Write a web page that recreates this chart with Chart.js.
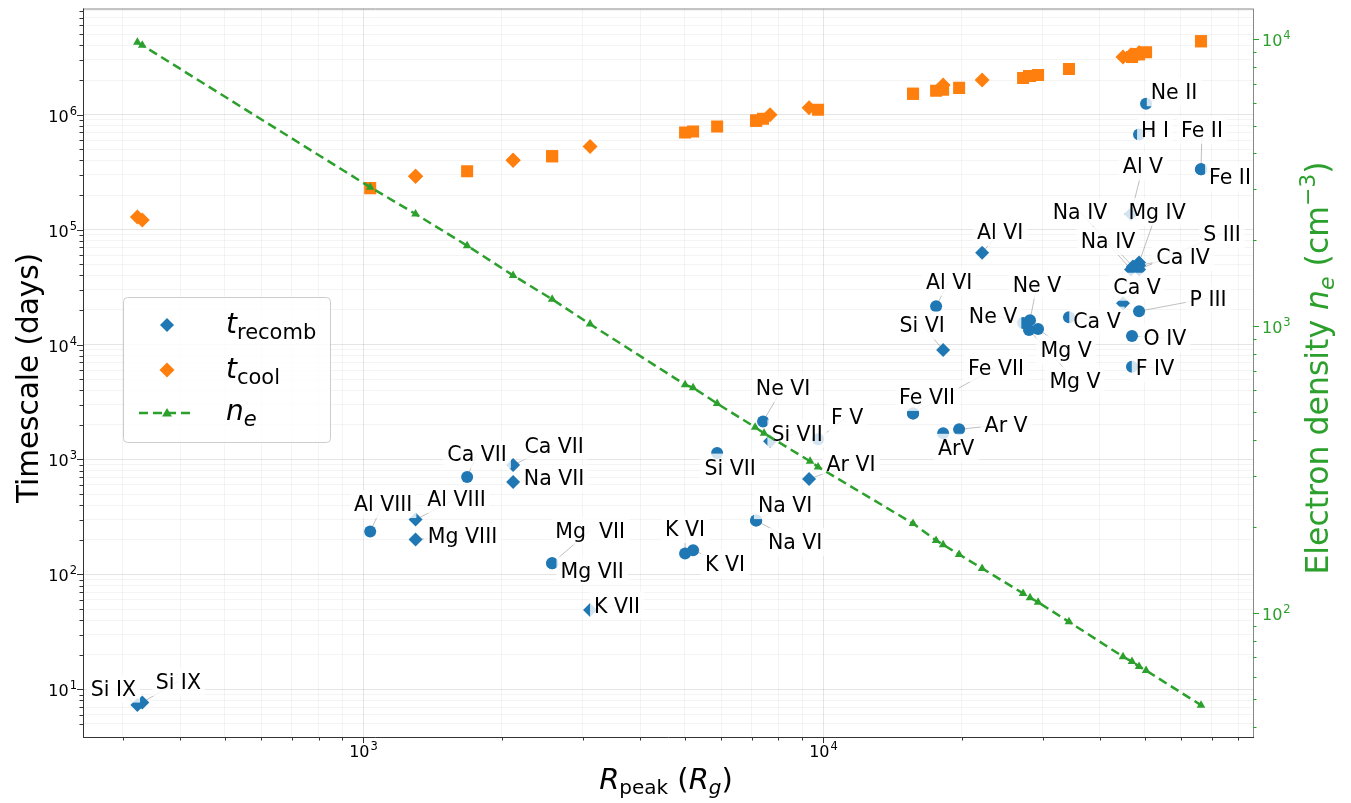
<!DOCTYPE html>
<html>
<head>
<meta charset="utf-8">
<script src="https://cdn.jsdelivr.net/npm/chart.js@4.4.1/dist/chart.umd.min.js"></script>
<style>
  html, body { margin: 0; padding: 0; background: #fff; }
</style>
</head>
<body>
<canvas id="chart" width="1351" height="803"></canvas>
<script>
// ================= DATA =================
// group A : t_recomb and t_cool both drawn as diamonds
const ionsA = ["Si IX", "Si IX", "Al VIII", "Mg VIII", "Ca VII", "Na VII", "K VII", "Si VII", "Ar VI",
  "Si VI", "Al VI", "Ca V", "Al V", "Na IV", "Na IV", "Mg IV", "Ca IV", "S III"];
const rPeakA = [323, 331, 1300, 1300, 2119, 2119, 3115, 7669, 9324,
  18240, 22170, 44890, 46720, 46720, 47180, 48640, 48640, 48640];
const tRecombA = [7.3, 7.7, 300, 201, 894, 638, 49, 1442, 677,
  8980, 63050, 22870, 136900, 44950, 47730, 51680, 48680, 44950];
const tCoolA = [128950, 121500, 291400, 291400, 400700, 400700, 529300, 1000000, 1149000,
  1816000, 2006000, 3170000, 3298000, 3298000, 3298000, 3432000, 3432000, 3432000];

// group B : t_recomb drawn as circles, t_cool as squares
const ionsB = ["Al VIII", "Ca VII", "Mg  VII", "Mg VII", "K VI", "K VI", "Si VII", "Na VI", "Na VI",
  "Ne VI", "F V", "Fe VII", "Fe VII", "Al VI", "ArV", "Ar V", "Ne V", "Ne V", "Mg V", "Mg V",
  "Ca V", "O IV", "F IV", "H I", "P III", "Ne II", "Fe II", "Fe II"];
const rPeakB = [1036, 1683, 2576, 2576, 5012, 5217, 5884, 7152, 7152,
  7405, 9752, 15690, 15690, 17610, 18240, 19760, 27220, 28180, 29340, 28040,
  34250, 46950, 46950, 48640, 48640, 50380, 66330, 66330];
const tRecombB = [236, 705, 125, 125, 152, 162, 1136, 294, 294,
  2145, 1500, 2516, 2516, 21540, 1690, 1830, 15370, 16310, 13640, 13370,
  17310, 11870, 6406, 672100, 19500, 1245000, 335000, 335000];
const tCoolB = [229600, 321900, 433800, 433800, 699000, 713000, 787600, 887500, 887500,
  923600, 1105000, 1518000, 1518000, 1612000, 1644000, 1711000, 2087000, 2172000, 2215000, 2172000,
  2497000, 3170000, 3170000, 3364000, 3364000, 3500000, 4355000, 4355000];

// electron density (right axis)
const neR = [323, 331, 1036, 1300, 1683, 2119, 2576, 3115, 5012, 5217, 5884, 7116, 7442, 9369, 9752,
  15690, 17610, 18240, 19760, 22170, 27220, 28180, 29340, 34250, 44890, 46950, 48640, 50380, 66330];
const neVal = [9760, 9530, 3050, 2460, 1907, 1502, 1240, 1016, 625, 610, 537, 444, 423, 338, 323,
  205, 179, 173, 160, 143, 117, 113, 109, 93.1, 70.4, 67.7, 65.0, 63.0, 47.7];

// ================= LAYOUT (label offsets in px from the point) =================
const labelOffA = [[-24, -17], [36, -21], [41, -21], [47, -4], [41, -20], [41, -4], [27, -5], [27, -8], [42, -15],
  [-21, -25], [18, -21], [14, -17], [12, -48], [-51, -58], [-25, -26], [18, -51], [44, -9], [83, -36]];
const labelOffB = [[13, -28], [10, -23], [38, -33], [40, 7], [0, -25], [32, 13], [13, 14], [29, -16], [39, 21],
  [20, -34], [29, -23], [14, -17], [83, -46], [13, -25], [13, 14], [47, -5], [-30, -8], [7, -36], [28, 20], [46, 50],
  [28, 3], [33, 2], [23, 1], [16, -5], [69, -13], [28, -12], [1, -40], [29, 7]];

const BLUE = "#1f77b4", ORANGE = "#ff7f0e", GREEN = "#2ca02c";
const FONT = '"DejaVu Sans"';

function pts(xs, ys) { return xs.map((x, i) => ({ x: x, y: ys[i] })); }
function isPow10(v) { const l = Math.log10(v); return Math.abs(l - Math.round(l)) < 1e-9; }
function isNice(v) {
  const e = Math.floor(Math.log10(v) + 1e-9);
  const m = v / Math.pow(10, e);
  return Math.abs(m - Math.round(m)) < 1e-6;
}

const labels = [];
ionsA.forEach((n, i) => labels.push({ text: n, r: rPeakA[i], t: tRecombA[i], off: labelOffA[i] }));
ionsB.forEach((n, i) => labels.push({ text: n, r: rPeakB[i], t: tRecombB[i], off: labelOffB[i] }));

// ================= DRAW HELPERS =================
function drawParts(ctx, parts, x, y, align) {
  let w = 0;
  parts.forEach(p => { ctx.font = p.font; p.w = ctx.measureText(p.t).width; w += p.w; });
  let cx = align === "center" ? x - w / 2 : x;
  ctx.textAlign = "left";
  ctx.textBaseline = "alphabetic";
  parts.forEach(p => { ctx.font = p.font; ctx.fillText(p.t, cx, y + (p.dy || 0)); cx += p.w; });
}

function drawPow(ctx, exp, x, y, align, color) {
  const base = "16px " + FONT, sup = "11.5px " + FONT;
  ctx.font = base; const w1 = ctx.measureText("10").width;
  ctx.font = sup; const w2 = ctx.measureText(String(exp)).width;
  const w = w1 + w2 + 1;
  const x0 = align === "center" ? x - w / 2 : align === "right" ? x - w : x;
  ctx.fillStyle = color; ctx.textAlign = "left"; ctx.textBaseline = "alphabetic";
  ctx.font = base; ctx.fillText("10", x0, y);
  ctx.font = sup; ctx.fillText(String(exp), x0 + w1 + 1, y - 7);
}

function diamond(ctx, x, y, r, color) {
  ctx.fillStyle = color; ctx.beginPath();
  ctx.moveTo(x, y - r); ctx.lineTo(x + r, y); ctx.lineTo(x, y + r); ctx.lineTo(x - r, y);
  ctx.closePath(); ctx.fill();
}

function line(ctx, x1, y1, x2, y2) { ctx.beginPath(); ctx.moveTo(x1, y1); ctx.lineTo(x2, y2); ctx.stroke(); }

// ================= PLUGIN =================
const overlay = {
  id: "overlay",
  beforeDatasetsDraw(chart) {
    // connector lines from labels to points
    const ctx = chart.ctx, sx = chart.scales.x, sy = chart.scales.y;
    ctx.save();
    ctx.strokeStyle = "rgba(0,0,0,0.25)"; ctx.lineWidth = 1;
    labels.forEach(L => {
      const px = sx.getPixelForValue(L.r), py = sy.getPixelForValue(L.t);
      line(ctx, px, py, px + L.off[0], py + L.off[1]);
    });
    ctx.restore();
  },
  afterDatasetDraw(chart, args) {
    if (args.meta.label !== "coolB") return;
    const ctx = chart.ctx, sx = chart.scales.x, sy = chart.scales.y;
    ctx.save();
    ctx.font = "20.5px " + FONT;
    labels.forEach(L => {
      const px = sx.getPixelForValue(L.r), py = sy.getPixelForValue(L.t);
      const cx = px + L.off[0], cy = py + L.off[1];
      const w = ctx.measureText(L.text).width;
      const base = cy + 7.5;
      ctx.fillStyle = "rgba(255,255,255,0.8)";
      ctx.fillRect(cx - w / 2 - 4, base - 21, w + 8, 28);
      ctx.fillStyle = "#000"; ctx.textAlign = "center"; ctx.textBaseline = "alphabetic";
      ctx.fillText(L.text, cx, base);
    });
    ctx.restore();
  },
  afterDraw(chart) {
    const ctx = chart.ctx, a = chart.chartArea;
    const sx = chart.scales.x, sy = chart.scales.y, sy2 = chart.scales.y2;
    ctx.save();

    // spines
    ctx.lineWidth = 1;
    ctx.strokeStyle = "#888";
    line(ctx, a.left, a.top + 0.5, a.right, a.top + 0.5);
    line(ctx, a.right + 0.5, a.top, a.right + 0.5, a.bottom);
    ctx.strokeStyle = "#333";
    line(ctx, a.left + 0.5, a.top, a.left + 0.5, a.bottom + 0.5);
    line(ctx, a.left, a.bottom + 0.5, a.right + 1, a.bottom + 0.5);

    // ticks and tick labels
    sx.ticks.forEach(t => {
      if (!isNice(t.value)) return;
      const px = Math.round(sx.getPixelForValue(t.value)) + 0.5;
      if (px <= a.left + 1 || px >= a.right - 1) return;
      const major = isPow10(t.value);
      ctx.strokeStyle = "#333";
      line(ctx, px, a.bottom, px, a.bottom + (major ? 6 : 3.5));
      if (major) drawPow(ctx, Math.round(Math.log10(t.value)), px, a.bottom + 20, "center", "#000");
    });
    sy.ticks.forEach(t => {
      if (!isNice(t.value)) return;
      const py = Math.round(sy.getPixelForValue(t.value)) + 0.5;
      if (py <= a.top + 1 || py >= a.bottom - 1) return;
      const major = isPow10(t.value);
      ctx.strokeStyle = "#333";
      line(ctx, a.left, py, a.left - (major ? 6 : 3.5), py);
      if (major) drawPow(ctx, Math.round(Math.log10(t.value)), a.left - 6, py + 6, "right", "#000");
    });
    sy2.ticks.forEach(t => {
      if (!isNice(t.value)) return;
      const py = Math.round(sy2.getPixelForValue(t.value)) + 0.5;
      if (py <= a.top + 1 || py >= a.bottom - 1) return;
      const major = isPow10(t.value);
      ctx.strokeStyle = GREEN;
      line(ctx, a.right, py, a.right + (major ? 6 : 3.5), py);
      if (major) drawPow(ctx, Math.round(Math.log10(t.value)), a.right + 9, py + 6, "left", GREEN);
    });

    // axis titles
    ctx.fillStyle = "#000";
    drawParts(ctx, [
      { t: "R", font: "italic 29px " + FONT },
      { t: "peak", font: "20px " + FONT, dy: 5 },
      { t: " (", font: "29px " + FONT },
      { t: "R", font: "italic 29px " + FONT },
      { t: "g", font: "italic 20px " + FONT, dy: 5 },
      { t: ")", font: "29px " + FONT }
    ], 666, 789, "center");

    ctx.save();
    ctx.translate(38, 378);
    ctx.rotate(-Math.PI / 2);
    drawParts(ctx, [{ t: "Timescale (days)", font: "29.5px " + FONT }], 0, 0, "center");
    ctx.restore();

    ctx.save();
    ctx.fillStyle = GREEN;
    ctx.translate(1328, 368);
    ctx.rotate(-Math.PI / 2);
    drawParts(ctx, [
      { t: "Electron density ", font: "31.5px " + FONT },
      { t: "n", font: "italic 31.5px " + FONT },
      { t: "e", font: "italic 22px " + FONT, dy: 6 },
      { t: " (cm", font: "31.5px " + FONT },
      { t: "\u22123", font: "22px " + FONT, dy: -13 },
      { t: ")", font: "31.5px " + FONT }
    ], 0, 0, "center");
    ctx.restore();

    // legend
    ctx.fillStyle = "rgba(255,255,255,0.8)";
    ctx.strokeStyle = "#cccccc";
    ctx.beginPath();
    ctx.roundRect(123.5, 297.5, 207, 145, 4);
    ctx.fill(); ctx.stroke();
    diamond(ctx, 167, 325, 7, BLUE);
    diamond(ctx, 167, 370, 7.5, ORANGE);
    ctx.strokeStyle = GREEN; ctx.lineWidth = 2.5; ctx.setLineDash([9, 5]);
    line(ctx, 139, 413, 195, 413);
    ctx.setLineDash([]);
    ctx.fillStyle = GREEN; ctx.beginPath();
    ctx.moveTo(167, 408); ctx.lineTo(172, 416.5); ctx.lineTo(162, 416.5); ctx.closePath(); ctx.fill();
    ctx.fillStyle = "#000";
    drawParts(ctx, [{ t: "t", font: "italic 28px " + FONT }, { t: "recomb", font: "21px " + FONT, dy: 6 }], 226, 333, "left");
    drawParts(ctx, [{ t: "t", font: "italic 28px " + FONT }, { t: "cool", font: "21px " + FONT, dy: 6 }], 226, 378, "left");
    drawParts(ctx, [{ t: "n", font: "italic 28px " + FONT }, { t: "e", font: "italic 21px " + FONT, dy: 6 }], 226, 420, "left");

    ctx.restore();
  }
};

// ================= CHART =================
const gridColor = c => {
  const v = c.tick && c.tick.value;
  if (!v || !isNice(v)) return "rgba(0,0,0,0)";
  return isPow10(v) ? "rgba(0,0,0,0.10)" : "rgba(0,0,0,0.045)";
};

new Chart(document.getElementById("chart"), {
  type: "scatter",
  data: {
    datasets: [
      {
        label: "ne", yAxisID: "y2", order: 0,
        data: pts(neR, neVal), showLine: true,
        borderColor: GREEN, borderWidth: 2.5, borderDash: [9, 5],
        pointStyle: "triangle", pointRadius: 5, pointBackgroundColor: GREEN, pointBorderWidth: 0
      },
      {
        label: "coolB", yAxisID: "y", order: 1, data: pts(rPeakB, tCoolB),
        pointStyle: "rect", pointRadius: 8.5, backgroundColor: ORANGE, pointBorderWidth: 0
      },
      {
        label: "coolA", yAxisID: "y", order: 2, data: pts(rPeakA, tCoolA),
        pointStyle: "rectRot", pointRadius: 7.5, backgroundColor: ORANGE, pointBorderWidth: 0
      },
      {
        label: "recombB", yAxisID: "y", order: 3, data: pts(rPeakB, tRecombB),
        pointStyle: "circle", pointRadius: 6, backgroundColor: BLUE, pointBorderWidth: 0
      },
      {
        label: "recombA", yAxisID: "y", order: 4, data: pts(rPeakA, tRecombA),
        pointStyle: "rectRot", pointRadius: 7, backgroundColor: BLUE, pointBorderWidth: 0
      }
    ]
  },
  options: {
    responsive: false,
    animation: false,
    devicePixelRatio: 1,
    layout: { padding: { top: 3, left: 0, right: 0, bottom: 0 } },
    plugins: { legend: { display: false }, tooltip: { enabled: false } },
    scales: {
      x: {
        type: "logarithmic", min: 246, max: 86050,
        ticks: { display: false },
        grid: { color: gridColor, drawTicks: false, lineWidth: 1 },
        border: { display: false },
        afterFit(s) { s.height = 66; }
      },
      y: {
        type: "logarithmic", position: "left", min: 3.85, max: 8.39e6,
        ticks: { display: false },
        grid: { color: gridColor, drawTicks: false, lineWidth: 1 },
        border: { display: false },
        afterFit(s) { s.width = 83; }
      },
      y2: {
        type: "logarithmic", position: "right", min: 36.94, max: 12800,
        ticks: { display: false },
        grid: { display: false, drawTicks: false },
        border: { display: false },
        afterFit(s) { s.width = 98; }
      }
    }
  },
  plugins: [overlay]
});
</script>
</body>
</html>
